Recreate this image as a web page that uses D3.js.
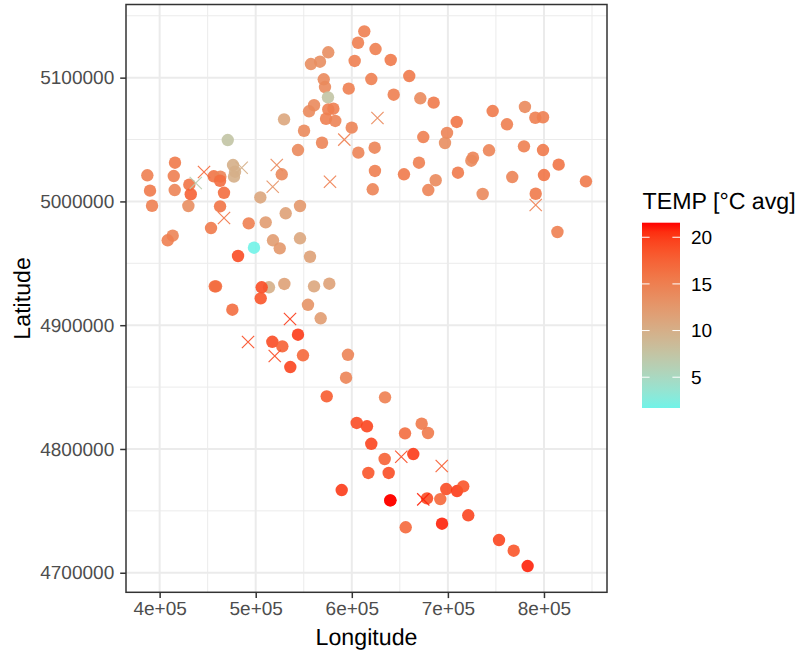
<!DOCTYPE html>
<html>
<head>
<meta charset="utf-8">
<script src="https://cdn.jsdelivr.net/npm/d3@7"></script>
<style>
  html, body { margin: 0; padding: 0; background: #fff; }
  svg { display: block; }
  text { font-family: "Liberation Sans", Arial, sans-serif; text-rendering: geometricPrecision; }
</style>
</head>
<body>
<svg width="801" height="653"></svg>
<script>
// stations (UTM metres, mean temperature)
const lon = [
  613000, 606500, 624700, 575500, 566900, 557500, 603000, 640500, 659800, 620300,
  570800, 572100, 596800, 643600, 671300, 685200, 575200, 560700, 555500, 580800,
  575500, 573200, 582800, 599900, 529500, 550300, 569000, 544000, 606800, 623800,
  624100, 621800, 527100, 470900, 476400, 478500, 477400, 416000, 387200, 414700,
  390000, 415700, 430900, 432400, 456300, 463200, 462900, 467000, 504800, 746600,
  780200, 791000, 799000, 709200, 761500, 699100, 697000, 674400, 779200, 799000,
  742800, 726100, 724400, 669900, 815300, 654300, 710500, 800000, 767000, 687300,
  843700, 679600, 736200, 791400, 814000, 392100, 429900, 462900, 546100, 531200,
  492700, 510400, 453500, 413600, 408400, 518000, 525000, 546100, 498200, 481600,
  556500, 457400, 458700, 513800, 506200, 529800, 560700, 576600, 505200, 554400, 475700,
  567600, 544000, 517300, 527700, 549200, 536000, 596000, 594000, 573900, 634600,
  605100, 615800, 672700, 679300, 655400, 620300, 664000, 634200, 617200, 638400,
  589500, 640100, 640100, 678300, 692100, 698300, 709500, 716000, 721200, 693900,
  656100, 753200, 768500, 783000
]
const lat = [
  5137400, 5128200, 5123100, 5120500, 5112900, 5111000, 5113500, 5114300, 5101300, 5098900,
  5098700, 5092400, 5091100, 5086200, 5083300, 5079800, 5084100, 5077700, 5072800, 5074900,
  5074400, 5066800, 5065000, 5059600, 5066300, 5057100, 5047400, 5041500, 5039400, 5043400,
  5024600, 5009800, 5021900, 5049600, 5029400, 5024000, 5020000, 5031300, 5021100, 5020500,
  5008700, 5009200, 5013500, 5005800, 5020300, 5020000, 5016700, 5007000, 5003200, 5073000,
  5076300, 5067600, 5068000, 5064200, 5062300, 5055300, 5047200, 5052000, 5044500, 5041500,
  5041300, 5035300, 5032900, 5031300, 5029700, 5021900, 5023200, 5021300, 5019700, 5017100,
  5016200, 5009200, 5006000, 5006200, 4975300, 4996500, 4996300, 4996000, 4996300, 4990400,
  4982300, 4983100, 4978500, 4972300, 4968600, 4968600, 4962100, 4970200, 4962600, 4955900,
  4955300, 4931400, 4931400, 4930600, 4930600, 4933300, 4931400, 4933500, 4921700, 4916500, 4912500,
  4905600, 4892300, 4886600, 4882900, 4875700, 4866200, 4876100, 4857600, 4842500, 4841700,
  4821000, 4818300, 4820400, 4812900, 4812600, 4804200, 4795900, 4791900, 4780600, 4780600,
  4766800, 4758500, 4758500, 4760100, 4759500, 4767600, 4766000, 4769800, 4746400, 4739600,
  4736700, 4726400, 4717800, 4705400
]
const temp = [
  15, 15, 15, 13.5, 13.5, 13.5, 15, 15.5, 15.5, 15,
  14, 14, 15, 15, 14, 15.5, 7.5, 14, 14, 15,
  15, 15, 14.5, 14.5, 11, 14, 14.5, 14, 14.5, 14.5,
  15, 14.5, 14, 7.5, 10, 10, 10, 15.5, 15, 15,
  15.5, 14.5, 16, 17.5, 16, 14.5, 16.5, 16.5, 11, 15.5,
  14, 15, 15, 16, 15, 14.5, 13.5, 15, 15, 15.5,
  14.5, 14.5, 14, 15, 16, 15.5, 15.5, 16, 14.5, 14,
  15.5, 14.5, 14, 15.5, 15, 15, 13.5, 16, 12.5, 11.5,
  15, 12, 15.5, 14.5, 15, 12, 12.5, 11, 1.7, 19,
  11.5, 16.5, 16.5, 10, 19, 11.5, 11, 11.5, 18.5, 13, 16.5,
  12, 20, 19, 17.5, 17, 19.5, 14.5, 14.5, 18, 15,
  19, 19.5, 15.5, 15.5, 16.5, 19.5, 20, 17.5, 18.5, 19,
  20, 21.5, 21.5, 19, 17, 19, 20, 18.5, 19.5, 21,
  17, 19.5, 18.5, 21
]

// second group of stations, drawn as crosses
const crossLon = [446200, 437600, 485400, 521900, 517700, 577300, 592200, 626700, 791400, 467000, 535700, 492000, 519800, 651500, 693600, 674400]
const crossLat = [5023800, 5014900, 5027200, 5029400, 5011900, 5015900, 5049900, 5067400, 4997100, 4986600, 4905000, 4886400, 4875100, 4793700, 4786200, 4759300]
const crossTemp = [17, 6.5, 10, 14, 13, 15, 15, 14, 15, 16, 20, 19, 19, 19, 18, 21]

const lonTicks = [400000, 500000, 600000, 700000, 800000]
const lonMinor = [450000, 550000, 650000, 750000, 850000]
const latTicks = [4700000, 4800000, 4900000, 5000000, 5100000]
const latMinor = [4750000, 4850000, 4950000, 5050000, 5150000]
const tempTicks = [5, 10, 15, 20]

const panel = { left: 126, right: 607, top: 4.5, bottom: 592.3 }
const svg = d3.select('svg')

// scales
const x = d3.scaleLinear().domain([365000, 865600]).range([panel.left, panel.right])
const y = d3.scaleLinear().domain([4684200, 5159100]).range([panel.bottom, panel.top])
const color = d3.scaleLinear()
  .domain([1.7, 21.56])
  .range(['#70F3E8', '#FF0000'])
  .interpolate(d3.interpolateLab)

// grid
const grid = svg.append('g')
const addV = (vals, w) => grid.selectAll(null).data(vals).enter().append('line')
  .attr('x1', x).attr('x2', x).attr('y1', panel.top).attr('y2', panel.bottom)
  .attr('stroke', '#EBEBEB').attr('stroke-width', w)
const addH = (vals, w) => grid.selectAll(null).data(vals).enter().append('line')
  .attr('y1', y).attr('y2', y).attr('x1', panel.left).attr('x2', panel.right)
  .attr('stroke', '#EBEBEB').attr('stroke-width', w)
addV(lonMinor, 1); addH(latMinor, 1)
addV(lonTicks, 2); addH(latTicks, 2)

// points
svg.append('g').selectAll('circle')
  .data(d3.range(lon.length))
  .enter().append('circle')
  .attr('cx', i => x(lon[i]))
  .attr('cy', i => y(lat[i]))
  .attr('r', 6.2)
  .attr('fill', i => color(temp[i]))
  .attr('fill-opacity', 0.9)

const crossSymbol = d3.symbol().type(d3.symbolX).size(100)
svg.append('g').selectAll('path')
  .data(d3.range(crossLon.length))
  .enter().append('path')
  .attr('d', crossSymbol)
  .attr('transform', i => `translate(${x(crossLon[i])},${y(crossLat[i])})`)
  .attr('fill', 'none')
  .attr('stroke', i => color(crossTemp[i]))
  .attr('stroke-opacity', 0.9)
  .attr('stroke-width', 1.2)

// panel border
svg.append('rect')
  .attr('x', panel.left).attr('y', panel.top)
  .attr('width', panel.right - panel.left).attr('height', panel.bottom - panel.top)
  .attr('fill', 'none').attr('stroke', '#333333').attr('stroke-width', 1.5)

// axes
const xAxis = d3.axisBottom(x).tickValues(lonTicks).tickSize(5.8).tickPadding(3)
  .tickFormat(d => `${d / 100000}e+05`)
const yAxis = d3.axisLeft(y).tickValues(latTicks).tickSize(5.8).tickPadding(6)
  .tickFormat(d3.format('d'))

const styleAxis = g => {
  g.select('.domain').remove()
  g.selectAll('line').attr('stroke', '#333333').attr('stroke-width', 1.5)
  g.selectAll('text').attr('fill', '#4D4D4D').style('font-size', '19px')
    .style('font-family', '"Liberation Sans", Arial, sans-serif')
}
svg.append('g').attr('transform', `translate(0,${panel.bottom})`).call(xAxis).call(styleAxis)
svg.append('g').attr('transform', `translate(${panel.left},0)`).call(yAxis).call(styleAxis)

svg.append('text')
  .attr('x', (panel.left + panel.right) / 2).attr('y', 645)
  .attr('text-anchor', 'middle').style('font-size', '23.2px').attr('fill', '#000')
  .text('Longitude')
svg.append('text')
  .attr('transform', `translate(30,${(panel.top + panel.bottom) / 2}) rotate(-90)`)
  .attr('text-anchor', 'middle').style('font-size', '23.2px').attr('fill', '#000')
  .text('Latitude')

// colour bar legend
const legendX = 642
const legendW = 38
const legendY = d3.scaleLinear().domain([1.7, 21.56]).range([408, 222.7])

const grad = svg.append('defs').append('linearGradient')
  .attr('id', 'tempGrad').attr('x1', 0).attr('x2', 0).attr('y1', 1).attr('y2', 0)
grad.selectAll('stop')
  .data(d3.range(21).map(i => i / 20))
  .enter().append('stop')
  .attr('offset', d => d)
  .attr('stop-color', d => color(1.7 + d * (21.56 - 1.7)))

svg.append('rect')
  .attr('x', legendX).attr('y', legendY(21.56))
  .attr('width', legendW).attr('height', legendY(1.7) - legendY(21.56))
  .attr('fill', 'url(#tempGrad)')

const legendTicks = svg.append('g').selectAll('g')
  .data(tempTicks).enter().append('g')
legendTicks.append('line')
  .attr('x1', legendX).attr('x2', legendX + 7.6)
  .attr('y1', legendY).attr('y2', legendY)
  .attr('stroke', '#fff').attr('stroke-width', 1)
legendTicks.append('line')
  .attr('x1', legendX + legendW - 7.6).attr('x2', legendX + legendW)
  .attr('y1', legendY).attr('y2', legendY)
  .attr('stroke', '#fff').attr('stroke-width', 1)
legendTicks.append('text')
  .attr('x', 691).attr('y', d => legendY(d) + 6.6)
  .style('font-size', '19px').attr('fill', '#000')
  .text(d => d)

svg.append('text')
  .attr('x', 642.5).attr('y', 209)
  .style('font-size', '23.2px').attr('fill', '#000')
  .text('TEMP [°C avg]')
</script>
</body>
</html>
